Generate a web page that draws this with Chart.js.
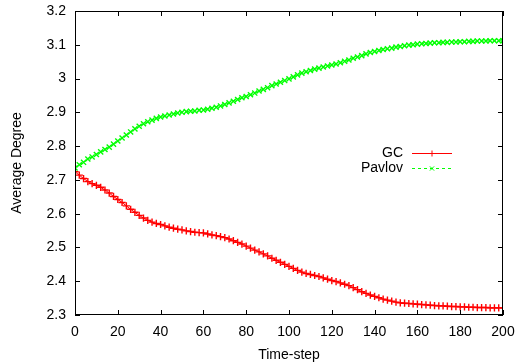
<!DOCTYPE html>
<html>
<head>
<meta charset="utf-8">
<script src="https://cdn.jsdelivr.net/npm/chart.js@4/dist/chart.umd.min.js"></script>
<style>
  body { margin: 0; background: #fff; }
</style>
</head>
<body>
<canvas id="degGraph" width="517" height="364"></canvas>
<script>
// Time steps (every 2nd step)
const steps = [];
for (let t = 0; t <= 200; t += 2) steps.push(t);

// Average degree, GC
const gc = [
    2.724, 2.714, 2.704, 2.695, 2.689, 2.684, 2.678, 2.670, 2.661, 2.651,
    2.642, 2.633, 2.623, 2.613, 2.604, 2.595, 2.587, 2.580, 2.575, 2.571,
    2.568, 2.564, 2.560, 2.557, 2.554, 2.552, 2.549, 2.547, 2.545, 2.544,
    2.543, 2.540, 2.537, 2.535, 2.532, 2.529, 2.525, 2.520, 2.515, 2.510,
    2.504, 2.498, 2.492, 2.487, 2.481, 2.475, 2.468, 2.462, 2.456, 2.450,
    2.444, 2.438, 2.432, 2.427, 2.423, 2.420, 2.417, 2.414, 2.410, 2.406,
    2.402, 2.399, 2.395, 2.391, 2.387, 2.381, 2.375, 2.369, 2.364, 2.359,
    2.355, 2.351, 2.347, 2.344, 2.341, 2.338, 2.336, 2.335, 2.334, 2.333,
    2.332, 2.331, 2.330, 2.329, 2.328, 2.327, 2.327, 2.326, 2.325, 2.325,
    2.324, 2.324, 2.323, 2.323, 2.322, 2.322, 2.322, 2.321, 2.321, 2.321,
    2.321
];

// Average degree, Pavlov
const pavlov = [
    2.735, 2.745, 2.752, 2.762, 2.768, 2.775, 2.783, 2.790, 2.797, 2.806,
    2.815, 2.824, 2.833, 2.842, 2.851, 2.859, 2.866, 2.872, 2.877, 2.882,
    2.886, 2.889, 2.892, 2.895, 2.898, 2.900, 2.902, 2.903, 2.904, 2.906,
    2.907, 2.909, 2.912, 2.915, 2.919, 2.923, 2.928, 2.933, 2.938, 2.943,
    2.947, 2.952, 2.957, 2.963, 2.968, 2.973, 2.979, 2.984, 2.989, 2.994,
    2.999, 3.005, 3.011, 3.016, 3.020, 3.024, 3.028, 3.031, 3.034, 3.037,
    3.040, 3.043, 3.047, 3.051, 3.055, 3.060, 3.064, 3.068, 3.073, 3.077,
    3.080, 3.083, 3.086, 3.088, 3.090, 3.093, 3.095, 3.097, 3.099, 3.100,
    3.102, 3.103, 3.104, 3.105, 3.106, 3.106, 3.107, 3.107, 3.108, 3.108,
    3.109, 3.109, 3.110, 3.110, 3.111, 3.111, 3.111, 3.112, 3.112, 3.112,
    3.112
];

const FONT = "'Liberation Sans', Arial, Helvetica, sans-serif";

// gnuplot style frame with inward ticks on all sides
const frameTicks = {
    id: 'frameTicks',
    afterDatasetsDraw(chart) {
        const { ctx, chartArea: a, scales } = chart;
        ctx.save();
        ctx.strokeStyle = '#000';
        ctx.lineWidth = 1;
        ctx.strokeRect(a.left + 0.5, a.top + 0.5, a.right - a.left - 1, a.bottom - a.top - 1);
        ctx.beginPath();
        const len = 5;
        scales.x.ticks.forEach(tk => {
            const px = Math.round(scales.x.getPixelForValue(tk.value)) + 0.5;
            ctx.moveTo(px, a.bottom); ctx.lineTo(px, a.bottom - len);
            ctx.moveTo(px, a.top); ctx.lineTo(px, a.top + len);
        });
        scales.y.ticks.forEach(tk => {
            const py = Math.round(scales.y.getPixelForValue(tk.value)) + 0.5;
            ctx.moveTo(a.left, py); ctx.lineTo(a.left + len, py);
            ctx.moveTo(a.right, py); ctx.lineTo(a.right - len, py);
        });
        ctx.stroke();
        ctx.restore();
    }
};

// legend inside the plot, text right-aligned with sample line after it
const innerLegend = {
    id: 'innerLegend',
    afterDraw(chart) {
        const { ctx } = chart;
        ctx.save();
        ctx.font = '14px ' + FONT;
        ctx.textAlign = 'right';
        ctx.textBaseline = 'middle';
        chart.data.datasets.forEach((ds, i) => {
            const y = 153 + i * 15;
            ctx.fillStyle = '#000';
            ctx.fillText(ds.label, 403, y);
            ctx.strokeStyle = ds.borderColor;
            ctx.lineWidth = 1;
            ctx.setLineDash(ds.borderDash || []);
            ctx.beginPath();
            ctx.moveTo(412, y + 0.5);
            ctx.lineTo(452, y + 0.5);
            ctx.stroke();
            ctx.setLineDash([]);
            Chart.helpers.drawPoint(ctx, {
                pointStyle: ds.pointStyle,
                radius: 3,
                rotation: 0,
                borderWidth: 1
            }, 432, y + 0.5);
        });
        ctx.restore();
    }
};

const deg_ctx = document.getElementById('degGraph').getContext('2d');

const degGraph = new Chart(deg_ctx, {
    type: 'line',
    data: {
        datasets: [{
            label: 'GC',
            data: steps.map((t, i) => ({ x: t, y: gc[i] })),
            borderWidth: 1,
            borderColor: '#ff0000',
            backgroundColor: '#ff0000',
            pointStyle: 'cross',
            pointRadius: 3.6,
            pointBorderWidth: 1.4,
            order: 1
        }, {
            label: 'Pavlov',
            data: steps.map((t, i) => ({ x: t, y: pavlov[i] })),
            borderWidth: 1,
            borderDash: [3, 3],
            borderColor: '#00ff00',
            backgroundColor: '#00ff00',
            pointStyle: 'crossRot',
            pointRadius: 3.6,
            pointBorderWidth: 1.4,
            order: 0
        }]
    },
    options: {
        responsive: false,
        animation: false,
        events: [],
        layout: { padding: { top: 11, right: 14, left: 0, bottom: 0 } },
        plugins: {
            legend: { display: false },
            tooltip: { enabled: false }
        },
        scales: {
            x: {
                type: 'linear',
                min: 0,
                max: 200,
                grid: { display: false, drawTicks: false },
                border: { display: false },
                ticks: {
                    stepSize: 20,
                    color: '#000',
                    padding: 9,
                    maxRotation: 0,
                    font: { family: FONT, size: 14 }
                },
                title: {
                    display: true,
                    text: 'Time-step',
                    color: '#000',
                    padding: 0,
                    font: { family: FONT, size: 14 }
                },
                afterFit(scale) {
                    scale.height = 49;
                    scale.paddingLeft = 0;
                    scale.paddingRight = 0;
                }
            },
            y: {
                min: 2.3,
                max: 3.2,
                grid: { display: false, drawTicks: false },
                border: { display: false },
                ticks: {
                    stepSize: 0.1,
                    color: '#000',
                    padding: 9,
                    font: { family: FONT, size: 14 },
                    callback: v => String(Math.round(v * 10) / 10)
                },
                title: {
                    display: true,
                    text: 'Average Degree',
                    color: '#000',
                    padding: { top: 9, bottom: 0 },
                    font: { family: FONT, size: 14 }
                },
                afterFit(scale) {
                    scale.width = 75;
                    scale.paddingTop = 0;
                    scale.paddingBottom = 0;
                }
            }
        }
    },
    plugins: [frameTicks, innerLegend]
});
</script>
</body>
</html>
